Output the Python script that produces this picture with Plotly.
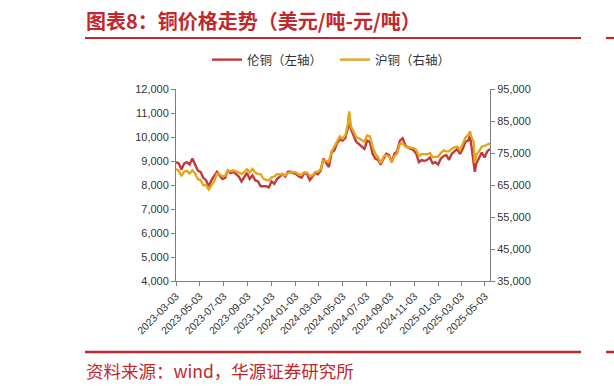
import plotly.graph_objects as go

dates = [
    "2023-03-03","2023-03-10","2023-03-17","2023-03-24","2023-03-31","2023-04-07","2023-04-14","2023-04-21",
    "2023-04-28","2023-05-05","2023-05-12","2023-05-19","2023-05-26","2023-06-02","2023-06-09","2023-06-16",
    "2023-06-23","2023-06-30","2023-07-07","2023-07-14","2023-07-21","2023-07-28","2023-08-04","2023-08-11",
    "2023-08-18","2023-08-25","2023-09-01","2023-09-08","2023-09-15","2023-09-22","2023-09-29","2023-10-06",
    "2023-10-13","2023-10-20","2023-10-27","2023-11-03","2023-11-10","2023-11-17","2023-11-24","2023-12-01",
    "2023-12-08","2023-12-15","2023-12-22","2023-12-29","2024-01-05","2024-01-12","2024-01-19","2024-01-26",
    "2024-02-02","2024-02-09","2024-02-16","2024-02-23","2024-03-01","2024-03-08","2024-03-15","2024-03-22",
    "2024-03-29","2024-04-05","2024-04-12","2024-04-19","2024-04-26","2024-05-03","2024-05-10","2024-05-17",
    "2024-05-20","2024-05-24","2024-05-31","2024-06-07","2024-06-14","2024-06-21","2024-06-28","2024-07-05",
    "2024-07-12","2024-07-19","2024-07-26","2024-08-02","2024-08-09","2024-08-16","2024-08-23","2024-08-30",
    "2024-09-06","2024-09-13","2024-09-20","2024-09-27","2024-10-04","2024-10-11","2024-10-18","2024-10-25",
    "2024-11-01","2024-11-08","2024-11-15","2024-11-22","2024-11-29","2024-12-06","2024-12-13","2024-12-20",
    "2024-12-27","2025-01-03","2025-01-10","2025-01-17","2025-01-24","2025-01-31","2025-02-07","2025-02-14",
    "2025-02-21","2025-02-28","2025-03-07","2025-03-14","2025-03-21","2025-03-26","2025-03-28","2025-04-04",
    "2025-04-07","2025-04-11","2025-04-18","2025-04-25","2025-05-02","2025-05-09","2025-05-16",
]

lme_copper = [
    8950, 8900, 8650, 8900, 8950, 8850, 9100, 8850,
    8600, 8550, 8300, 8200, 7950, 8200, 8350, 8550,
    8400, 8250, 8300, 8600, 8500, 8550, 8450, 8350,
    8150, 8300, 8500, 8250, 8400, 8200, 8150, 7950,
    7950, 7950, 7900, 8150, 8050, 8250, 8350, 8450,
    8350, 8550, 8550, 8500, 8450, 8350, 8300, 8500,
    8450, 8200, 8350, 8500, 8450, 8600, 9100, 8900,
    8750, 9350, 9450, 9750, 9900, 9850, 9950, 10400,
    10950, 10350, 10050, 9800, 9700, 9600, 9500, 9850,
    9800, 9300, 9100, 9050, 8850, 9100, 9300, 9250,
    8950, 9300, 9400, 9850, 9950, 9650, 9550, 9500,
    9450, 9300, 8950, 9050, 9000, 9050, 9150, 8900,
    8950, 8850, 9100, 9200, 9250, 9050, 9300, 9400,
    9500, 9300, 9500, 9800, 9850, 10050, 9800, 8800,
    8550, 8900, 9150, 9350, 9150, 9400, 9500,
]

shfe_copper = [
    70000, 69500, 67800, 69200, 69400, 68600, 69600, 68600,
    66800, 66500, 64900, 65000, 63600, 65100, 66200, 68500,
    68400, 67700, 67900, 69500, 69300, 69600, 69200, 68800,
    68500, 69000, 69900, 69000, 70000, 68900, 68400, 68400,
    67000, 66600, 66400, 67400, 67600, 68400, 68400, 68300,
    68000, 68700, 68900, 69100, 68900, 68300, 68300, 69000,
    68900, 67900, 68000, 69100, 69100, 70000, 72700, 72500,
    72400, 75500, 77000, 78600, 80200, 79500, 80500, 84300,
    88000, 83500, 81500, 80000, 79600, 79000, 78500, 80500,
    80200, 77000, 74800, 73700, 71800, 73900, 74300, 74000,
    72200, 74000, 74900, 77800, 78000, 77000, 76800, 76500,
    76500, 76000, 74000, 74600, 74500, 74600, 75000, 73700,
    73800, 73900, 75000, 75800, 75500, 75500, 76300, 76800,
    77000, 76000, 77800, 79800, 80700, 81800, 80500, 78500,
    72000, 74500, 75500, 77000, 77200, 77500, 78000,
]

tick_dates = [
    "2023-03-03","2023-05-03","2023-07-03","2023-09-03","2023-11-03","2024-01-03","2024-03-03",
    "2024-05-03","2024-07-03","2024-09-03","2024-11-03","2025-01-03","2025-03-03","2025-05-03",
]

left_ticks = [4000, 5000, 6000, 7000, 8000, 9000, 10000, 11000, 12000]
right_ticks = [35000, 45000, 55000, 65000, 75000, 85000, 95000]

title_text = "图表8：铜价格走势（美元/吨-元/吨）"
source_text = "资料来源：wind，华源证券研究所"
name_lme = "伦铜（左轴）"
name_shfe = "沪铜（右轴）"

RED = "#C0282D"
LINE_RED = "#C0393B"
LINE_GOLD = "#E6A61C"
AXIS = "#7F7F7F"
TXT = "#333333"
CJK = "Noto Sans CJK SC"
LAT = "Liberation Sans, Arial, sans-serif"

PL, PR, PT, PB = 176, 490, 89, 281


def px_x(p):
    return (p - PL) / (PR - PL)


def px_y(p):
    return (PB - p) / (PB - PT)


fig = go.Figure()
fig.add_trace(go.Scatter(x=dates, y=lme_copper, name=name_lme, mode="lines",
                         line=dict(color=LINE_RED, width=2.4), yaxis="y"))
fig.add_trace(go.Scatter(x=dates, y=shfe_copper, name=name_shfe, mode="lines",
                         line=dict(color=LINE_GOLD, width=2.4), yaxis="y2"))

fig.update_layout(
    width=614, height=390,
    margin=dict(l=PL, r=614 - PR, t=PT, b=390 - PB, autoexpand=False),
    paper_bgcolor="white", plot_bgcolor="white",
    showlegend=True,
    legend=dict(orientation="h", x=px_x(207), xanchor="left", y=px_y(60), yanchor="middle",
                font=dict(family=CJK, size=12.5, color=TXT), itemwidth=30,
                bgcolor="rgba(0,0,0,0)", entrywidth=83, entrywidthmode="pixels"),
    xaxis=dict(type="date", range=["2023-03-03", "2025-05-16"], tickvals=tick_dates, ticktext=tick_dates,
               tickangle=-45, showline=True, linecolor=AXIS, linewidth=1, ticks="outside", ticklen=4,
               tickcolor=AXIS, showgrid=False, zeroline=False,
               tickfont=dict(family=LAT, size=10.5, color=TXT)),
    yaxis=dict(range=[4000, 12000], tickvals=left_ticks, tickformat=",", showline=True, linecolor=AXIS,
               ticks="outside", ticklen=4, tickcolor=AXIS, showgrid=False, zeroline=False,
               tickfont=dict(family=LAT, size=11, color=TXT)),
    yaxis2=dict(range=[35000, 95000], tickvals=right_ticks, tickformat=",", overlaying="y", side="right",
                showline=True, linecolor=AXIS, ticks="outside", ticklen=4, tickcolor=AXIS,
                showgrid=False, zeroline=False, tickfont=dict(family=LAT, size=11, color=TXT)),
)

fig.add_annotation(text="<b>" + title_text + "</b>", xref="paper", yref="paper",
                   x=px_x(84), y=px_y(20), xanchor="left", yanchor="middle",
                   showarrow=False, font=dict(family=CJK, size=20, color=RED))
fig.add_annotation(text=source_text, xref="paper", yref="paper",
                   x=px_x(84), y=px_y(370), xanchor="left", yanchor="middle",
                   showarrow=False, font=dict(family=CJK, size=17.5, color=RED))

fig.add_shape(type="line", xref="paper", yref="paper", x0=px_x(85), x1=px_x(581), y0=px_y(38), y1=px_y(38),
              line=dict(color=RED, width=2.2))
fig.add_shape(type="line", xref="paper", yref="paper", x0=px_x(85), x1=px_x(581), y0=px_y(352), y1=px_y(352),
              line=dict(color=RED, width=2.5))
fig.add_shape(type="line", xref="paper", yref="paper", x0=px_x(606), x1=px_x(616), y0=px_y(38), y1=px_y(38),
              line=dict(color=RED, width=2.2))
fig.add_shape(type="line", xref="paper", yref="paper", x0=px_x(606), x1=px_x(616), y0=px_y(352), y1=px_y(352),
              line=dict(color=RED, width=2.5))

fig.write_html("out.html", config={"displayModeBar": False},
               post_script="document.body.style.margin='0';")
